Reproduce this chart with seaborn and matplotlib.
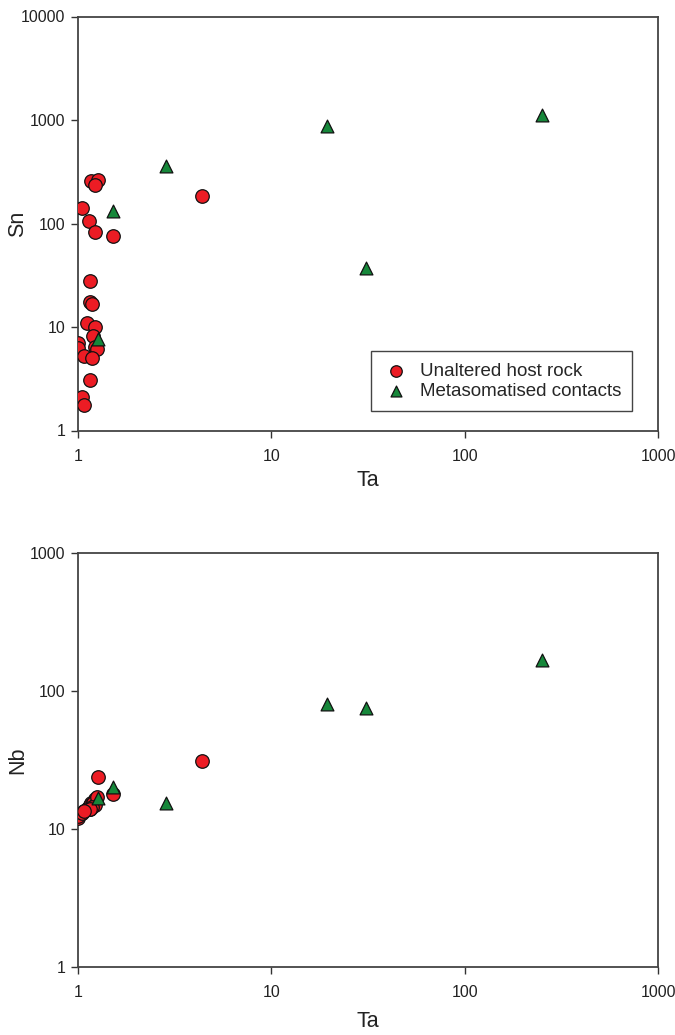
import numpy as np
import pandas as pd
import matplotlib
matplotlib.use("Agg")
import matplotlib.pyplot as plt
import seaborn as sns
from matplotlib.ticker import FixedLocator, FixedFormatter, NullLocator

# ---- data ----
unaltered_ta = [1.17, 1.27, 1.22, 1.05, 1.14, 1.23, 1.52, 4.4, 1.15, 1.15, 1.18, 1.11,
                1.22, 1.20, 1.00, 1.00, 1.22, 1.26, 1.07, 1.18, 1.15, 1.05, 1.07]
unaltered_sn = [255, 262, 235, 142, 105, 82, 76, 185, 28, 17.5, 16.5, 11,
                10, 8.2, 7.0, 6.3, 6.4, 6.1, 5.2, 5.0, 3.1, 2.1, 1.78]
unaltered_nb = [15.5, 24, 16, 13, 14.5, 16.5, 18, 31, 15, 14, 15, 14,
                16, 15.5, 12, 12.5, 15, 17, 13.5, 14.5, 14, 13, 13.5]

meta_ta = [1.27, 1.52, 2.85, 19.5, 31, 250]
meta_sn = [7.6, 132, 360, 870, 37, 1120]
meta_nb = [16.8, 20, 15.4, 81, 75, 167]

labels = ["Unaltered host rock", "Metasomatised contacts"]

df_u = pd.DataFrame({"Ta": unaltered_ta, "Sn": unaltered_sn, "Nb": unaltered_nb})
df_m = pd.DataFrame({"Ta": meta_ta, "Sn": meta_sn, "Nb": meta_nb})

sns.set_theme(style="white")
plt.rcParams["font.family"] = ["Liberation Sans", "DejaVu Sans"]

red = "#ec1c24"
green = "#16873a"

fig = plt.figure(figsize=(6.75, 10.35), dpi=100)
ax1 = fig.add_axes([78/675, 1-430.5/1035, 580/675, 414/1035])
ax2 = fig.add_axes([78/675, 1-967/1035, 580/675, 414/1035])

def style(ax, ymax, yticks, ylabel, xlab_y):
    ax.set_xscale("log")
    ax.set_yscale("log")
    ax.set_xlim(1, 1000)
    ax.set_ylim(1, ymax)
    ax.xaxis.set_major_locator(FixedLocator([1, 10, 100, 1000]))
    ax.xaxis.set_major_formatter(FixedFormatter(["1", "10", "100", "1000"]))
    ax.yaxis.set_major_locator(FixedLocator(yticks))
    ax.yaxis.set_major_formatter(FixedFormatter([str(t) for t in yticks]))
    ax.xaxis.set_minor_locator(NullLocator())
    ax.yaxis.set_minor_locator(NullLocator())
    ax.tick_params(axis="both", which="major", direction="out", length=5, width=1.0,
                   color="#333333", labelsize=11.5, labelcolor="#222222", pad=4,
                   bottom=True, left=True)
    ax.tick_params(axis="x", pad=8)
    for sp in ax.spines.values():
        sp.set_visible(True)
        sp.set_color("#444444")
        sp.set_linewidth(1.3)
    ax.set_xlabel("Ta", fontsize=15.5, color="#222222")
    ax.set_ylabel(ylabel, fontsize=15.5, color="#222222")
    ax.xaxis.set_label_coords(0.5, xlab_y)
    ax.yaxis.set_label_coords(-0.086, 0.5)
    ax.grid(False)

# top panel
sns.scatterplot(data=df_u, x="Ta", y="Sn", ax=ax1, marker="o", s=95, color=red,
                edgecolor="#111111", linewidth=0.9, label=labels[0], zorder=3)
sns.scatterplot(data=df_m, x="Ta", y="Sn", ax=ax1, marker="^", s=85, color=green,
                edgecolor="#111111", linewidth=0.9, label=labels[1], zorder=4)
style(ax1, 10000, [1, 10, 100, 1000, 10000], "Sn", -0.095)
leg = ax1.legend(loc="lower right", bbox_to_anchor=(0.972, 0.025), fontsize=13.5,
                 frameon=True, fancybox=False, edgecolor="#444444", framealpha=1,
                 handletextpad=0.5, borderpad=0.6, labelspacing=0.15, markerscale=0.85,
                 handlelength=1.5)
leg.get_frame().set_linewidth(1.0)

# bottom panel
sns.scatterplot(data=df_u, x="Ta", y="Nb", ax=ax2, marker="o", s=95, color=red,
                edgecolor="#111111", linewidth=0.9, zorder=3, legend=False)
sns.scatterplot(data=df_m, x="Ta", y="Nb", ax=ax2, marker="^", s=85, color=green,
                edgecolor="#111111", linewidth=0.9, zorder=4, legend=False)
style(ax2, 1000, [1, 10, 100, 1000], "Nb", -0.107)

fig.savefig("out.png", dpi=100)
